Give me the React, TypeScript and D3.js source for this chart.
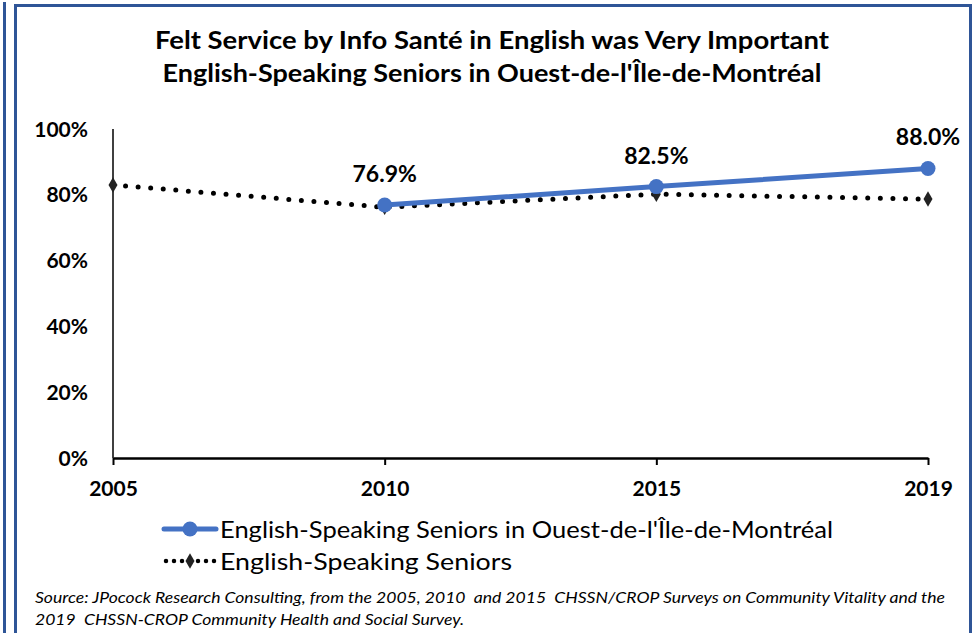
import * as d3 from 'd3'
import { useEffect, useRef } from 'react'

const WIDTH = 977
const HEIGHT = 633

const years = ['2005', '2010', '2015', '2019']
const ouestValues: (number | null)[] = [null, 76.9, 82.5, 88.0]
const seniorsValues = [83.0, 76.2, 80.2, 78.7]
const yTicks = [0, 20, 40, 60, 80, 100]

const titleLines = [
  'Felt Service by Info Santé in English was Very Important',
  "English-Speaking Seniors in Ouest-de-l'Île-de-Montréal",
]
const legendLabels = [
  "English-Speaking Seniors in Ouest-de-l'Île-de-Montréal",
  'English-Speaking Seniors',
]
const sourceLines = [
  'Source: JPocock Research Consulting, from the 2005, 2010  and 2015  CHSSN/CROP Surveys on Community Vitality and the',
  '2019  CHSSN-CROP Community Health and Social Survey.',
]
// measured text widths in the original, so the substitute font spans the same room
const titleWidths = [674, 659]
const legendWidths = [613, 292]
const sourceWidths = [910, 429]

const BLUE = '#4472C4'
const FRAME = '#2F5597'
const FONT = 'Lato, "Open Sans", sans-serif'

function drawChart(node: SVGSVGElement) {
  const svg = d3.select(node)
  svg.selectAll('*').remove()

  // frame
  svg.append('rect').attr('width', WIDTH).attr('height', HEIGHT).attr('fill', '#fff')
  svg
    .append('line')
    .attr('x1', 4.5).attr('x2', 4.5).attr('y1', 2).attr('y2', HEIGHT)
    .attr('stroke', FRAME).attr('stroke-width', 3)
  svg
    .append('path')
    .attr('d', `M15.5,${HEIGHT} V5.5 H970.5 V${HEIGHT}`)
    .attr('fill', 'none')
    .attr('stroke', FRAME)
    .attr('stroke-width', 3)

  // title
  svg
    .append('g')
    .selectAll('text')
    .data(titleLines)
    .join('text')
    .attr('x', 492)
    .attr('y', (_, i) => 49 + i * 33)
    .attr('text-anchor', 'middle')
    .attr('font-family', FONT)
    .attr('font-weight', 700)
    .attr('font-size', 24)
    .attr('textLength', (_, i) => titleWidths[i])
    .attr('lengthAdjust', 'spacingAndGlyphs')
    .attr('fill', '#000')
    .text((d) => d)

  const x = d3.scalePoint<string>().domain(years).range([113, 928]).padding(0)
  const y = d3.scaleLinear().domain([0, 100]).range([458, 129])

  // y axis
  svg
    .append('line')
    .attr('x1', 113).attr('x2', 113).attr('y1', y(100)).attr('y2', y(0))
    .attr('stroke', '#000').attr('stroke-width', 1.5)
  svg
    .append('g')
    .selectAll('text')
    .data(yTicks)
    .join('text')
    .attr('x', 88)
    .attr('y', (d) => y(d))
    .attr('dy', '0.36em')
    .attr('text-anchor', 'end')
    .attr('font-family', FONT)
    .attr('font-weight', 700)
    .attr('font-size', 21)
    .text((d) => `${d}%`)

  // x axis
  const xAxis = svg.append('g').attr('transform', `translate(0,${y(0)})`)
  xAxis
    .call(d3.axisBottom(x).tickSize(7).tickSizeOuter(0).tickPadding(16))
    .call((g) => g.select('.domain').attr('stroke-width', 2.5))
    .call((g) => g.selectAll('.tick line').attr('stroke-width', 2))
    .call((g) =>
      g
        .selectAll('.tick text')
        .attr('font-family', FONT)
        .attr('font-weight', 700)
        .attr('font-size', 21)
        .attr('fill', '#000'),
    )

  // dotted series
  const seniorsLine = d3
    .line<number>()
    .x((_, i) => x(years[i])!)
    .y((d) => y(d))
  svg
    .append('path')
    .attr('d', seniorsLine(seniorsValues))
    .attr('fill', 'none')
    .attr('stroke', '#000')
    .attr('stroke-width', 5)
    .attr('stroke-linecap', 'round')
    .attr('stroke-dasharray', '0 12.6')
  const diamond = d3.symbol(d3.symbolDiamond, 70)
  svg
    .append('g')
    .selectAll('path')
    .data(seniorsValues)
    .join('path')
    .attr('d', diamond())
    .attr('transform', (d, i) => `translate(${x(years[i])},${y(d)})`)
    .attr('fill', '#222')

  // blue series
  const ouestLine = d3
    .line<number | null>()
    .defined((d) => d !== null)
    .x((_, i) => x(years[i])!)
    .y((d) => y(d as number))
  svg
    .append('path')
    .attr('d', ouestLine(ouestValues))
    .attr('fill', 'none')
    .attr('stroke', BLUE)
    .attr('stroke-width', 5)
    .attr('stroke-linecap', 'round')
  const ouestPoints = ouestValues
    .map((v, i) => ({ v, year: years[i] }))
    .filter((d) => d.v !== null) as { v: number; year: string }[]
  svg
    .append('g')
    .selectAll('circle')
    .data(ouestPoints)
    .join('circle')
    .attr('cx', (d) => x(d.year)!)
    .attr('cy', (d) => y(d.v))
    .attr('r', 7.5)
    .attr('fill', BLUE)
  svg
    .append('g')
    .selectAll('text')
    .data(ouestPoints)
    .join('text')
    .attr('x', (d) => x(d.year)!)
    .attr('y', (d) => y(d.v) - 23)
    .attr('text-anchor', 'middle')
    .attr('font-family', FONT)
    .attr('font-weight', 700)
    .attr('font-size', 23)
    .text((d) => `${d.v.toFixed(1)}%`)

  // legend
  const legend = svg.append('g')
  legend
    .append('line')
    .attr('x1', 164).attr('x2', 216).attr('y1', 529).attr('y2', 529)
    .attr('stroke', BLUE).attr('stroke-width', 5).attr('stroke-linecap', 'round')
  legend.append('circle').attr('cx', 190).attr('cy', 529).attr('r', 7.5).attr('fill', BLUE)
  legend
    .append('line')
    .attr('x1', 166).attr('x2', 216).attr('y1', 561).attr('y2', 561)
    .attr('stroke', '#000').attr('stroke-width', 4.5)
    .attr('stroke-linecap', 'round').attr('stroke-dasharray', '0 8')
  legend
    .append('path')
    .attr('d', diamond())
    .attr('transform', 'translate(190,561)')
    .attr('fill', '#222')
  legend
    .selectAll('text')
    .data(legendLabels)
    .join('text')
    .attr('x', 220)
    .attr('y', (_, i) => 529 + i * 32)
    .attr('dy', '0.36em')
    .attr('font-family', FONT)
    .attr('font-size', 24)
    .attr('textLength', (_, i) => legendWidths[i])
    .attr('lengthAdjust', 'spacingAndGlyphs')
    .text((d) => d)

  // source
  svg
    .append('g')
    .selectAll('text')
    .data(sourceLines)
    .join('text')
    .attr('x', 35)
    .attr('y', (_, i) => 603 + i * 22)
    .attr('font-family', FONT)
    .attr('font-style', 'italic')
    .attr('font-size', 16)
    .attr('textLength', (_, i) => sourceWidths[i])
    .attr('lengthAdjust', 'spacingAndGlyphs')
    .style('white-space', 'pre')
    .text((d) => d)
}

export default function App() {
  const ref = useRef<SVGSVGElement>(null)
  useEffect(() => {
    if (ref.current) drawChart(ref.current)
  }, [])
  return (
    <div style={{ position: 'fixed', left: 0, top: 0 }}>
      <svg ref={ref} width={WIDTH} height={HEIGHT} style={{ display: 'block' }} />
    </div>
  )
}
